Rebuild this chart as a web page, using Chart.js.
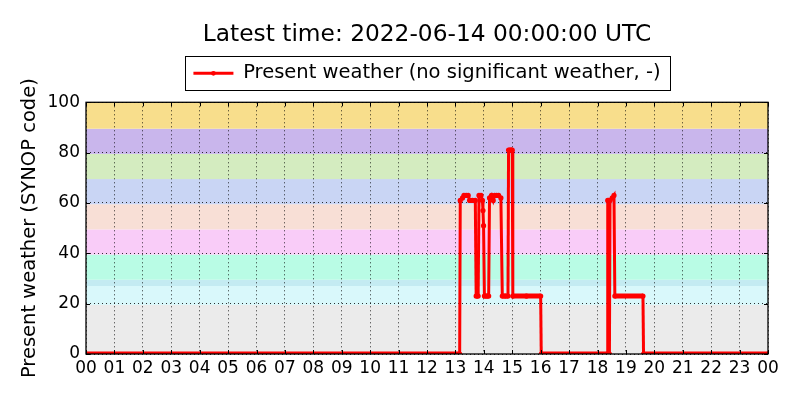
<!DOCTYPE html>
<html>
<head>
<meta charset="utf-8">
<script src="https://cdn.jsdelivr.net/npm/chart.js@4.4.1/dist/chart.umd.min.js"></script>
<style>
  html, body { margin: 0; padding: 0; background: #ffffff; }
  #wrap { width: 800px; height: 400px; }
</style>
</head>
<body>
<div id="wrap"><canvas id="c" width="800" height="400"></canvas></div>
<script>
// ---- data (hours since 00 UTC, SYNOP present-weather code) ----
const timeHours = [0, 13.15, 13.17, 13.25, 13.30, 13.38, 13.45, 13.50, 13.60, 13.70,
  13.73, 13.80, 13.83, 13.90, 13.95, 13.97, 13.99, 14.02, 14.10, 14.17,
  14.20, 14.27, 14.33, 14.38, 14.45, 14.52, 14.60, 14.65, 14.75, 14.85,
  14.87, 14.95, 15.00, 15.02, 15.50, 16.00, 16.02,
  18.34, 18.36, 18.40, 18.42, 18.44, 18.52, 18.58, 18.61, 19.60, 19.62, 24];
const weatherCode = [0, 0, 61, 62, 63, 63, 63, 61, 61, 61,
  23, 23, 63, 63, 61, 57, 51, 23, 23, 23,
  62, 63, 61, 63, 63, 63, 62, 23, 23, 23,
  81, 81, 81, 23, 23, 23, 0,
  0, 61, 61, 0, 61, 62, 63, 23, 23, 0, 0];
const hourTickLabels = ['00','01','02','03','04','05','06','07','08','09','10','11',
  '12','13','14','15','16','17','18','19','20','21','22','23','00'];
const yTickValues = [0, 20, 40, 60, 80, 100];
// weather-class background bands (SYNOP code ranges)
const bandEdges = [0, 19.5, 27, 29.5, 39.5, 49.5, 59.5, 69.5, 79.5, 89.5, 100];
const bandColors = ['#ebebeb', '#d9f8fb', '#c4ebf2', '#b9fce5', '#f9ccf8',
  '#f8dfd6', '#c9d5f4', '#d4ecc0', '#c9b6ec', '#f8de8c'];

const FONT = "'DejaVu Sans', sans-serif";
const points = timeHours.map((t, i) => ({ x: t, y: weatherCode[i] }));

const decor = {
  id: 'decor',
  beforeDraw(chart) {
    const { ctx, chartArea: a, scales: { y } } = chart;
    ctx.save();
    ctx.fillStyle = '#ffffff';
    ctx.fillRect(0, 0, chart.width, chart.height);
    for (let i = 0; i < bandColors.length; i++) {
      const y0 = y.getPixelForValue(bandEdges[i]);
      const y1 = y.getPixelForValue(bandEdges[i + 1]);
      ctx.fillStyle = bandColors[i];
      ctx.fillRect(a.left, y1, a.right - a.left, y0 - y1);
    }
    ctx.restore();
  },
  afterDatasetsDraw(chart) {
    const { ctx, chartArea: a, scales: { x, y } } = chart;
    ctx.save();
    ctx.strokeStyle = '#000';
    ctx.lineWidth = 1;
    const L = 4;
    ctx.beginPath();
    x.ticks.forEach(t => {
      const px = Math.round(x.getPixelForValue(t.value)) + 0.5;
      ctx.moveTo(px, a.bottom); ctx.lineTo(px, a.bottom - L);
      ctx.moveTo(px, a.top); ctx.lineTo(px, a.top + L);
    });
    y.ticks.forEach(t => {
      const py = Math.round(y.getPixelForValue(t.value)) + 0.5;
      ctx.moveTo(a.left, py); ctx.lineTo(a.left + L, py);
      ctx.moveTo(a.right, py); ctx.lineTo(a.right - L, py);
    });
    ctx.stroke();
    ctx.lineWidth = 1.3;
    ctx.strokeRect(a.left, a.top, a.right - a.left, a.bottom - a.top);
    ctx.restore();
  },
  afterDraw(chart) {
    const lg = chart.legend;
    if (!lg || !lg.legendHitBoxes || !lg.legendHitBoxes.length) return;
    const hb = lg.legendHitBoxes[0];
    const ctx = chart.ctx;
    const cy = hb.top + hb.height / 2;
    ctx.save();
    // legend line sample with its small marker
    ctx.strokeStyle = '#ff0000';
    ctx.lineWidth = 3;
    ctx.beginPath();
    ctx.moveTo(hb.left, cy);
    ctx.lineTo(hb.left + 40, cy);
    ctx.stroke();
    ctx.fillStyle = '#ff0000';
    ctx.beginPath();
    ctx.arc(hb.left + 20, cy, 2.4, 0, Math.PI * 2);
    ctx.fill();
    ctx.strokeStyle = '#000';
    ctx.lineWidth = 1;
    ctx.strokeRect(Math.round(hb.left - 8) + 0.5, Math.round(cy - 17) + 0.5,
      Math.round(hb.width + 18), 34);
    ctx.restore();
  }
};

new Chart(document.getElementById('c'), {
  type: 'line',
  data: {
    datasets: [{
      label: 'Present weather (no significant weather, -)',
      data: points,
      borderColor: '#ff0000',
      backgroundColor: '#ff0000',
      borderWidth: 3,
      pointRadius: 2.6,
      pointBorderWidth: 0,
      pointBackgroundColor: '#ff0000',
      pointHoverRadius: 2.6,
      tension: 0,
      clip: 0,
      segment: {
        borderWidth: c => (c.p0.parsed.y === c.p1.parsed.y ? 5 : 3)
      }
    }]
  },
  options: {
    responsive: false,
    animation: false,
    events: [],
    layout: { padding: { left: 0, right: 32, top: 0, bottom: 0 } },
    scales: {
      x: {
        type: 'linear',
        min: 0, max: 24,
        afterFit: s => { s.height = 46; },
        afterBuildTicks: s => { s.ticks = hourTickLabels.map((_, i) => ({ value: i })); },
        ticks: {
          autoSkip: false, maxRotation: 0, padding: 4,
          color: '#000', font: { family: FONT, size: 17 },
          callback: (v, i) => hourTickLabels[i]
        },
        grid: { color: 'rgba(0,0,0,0.8)', lineWidth: 1, drawTicks: false },
        border: { display: false, dash: [1, 3] }
      },
      xSpacer: {
        type: 'linear', position: 'top', display: true,
        min: 0, max: 24,
        afterFit: s => { s.height = 9.25; },
        ticks: { display: false },
        grid: { display: false, drawTicks: false },
        border: { display: false }
      },
      y: {
        min: 0, max: 100,
        afterFit: s => { s.width = 86; },
        afterBuildTicks: s => { s.ticks = yTickValues.map(v => ({ value: v })); },
        ticks: { padding: 6, color: '#000', font: { family: FONT, size: 17 } },
        grid: { color: 'rgba(0,0,0,0.8)', lineWidth: 1, drawTicks: false },
        border: { display: false, dash: [1, 3] },
        title: {
          display: true, text: 'Present weather (SYNOP code)',
          color: '#000', font: { family: FONT, size: 19.5 },
          padding: { top: 18.3, bottom: 0 }
        }
      }
    },
    plugins: {
      title: {
        display: true, text: 'Latest time: 2022-06-14 00:00:00 UTC',
        fullSize: false,
        color: '#000', font: { family: FONT, size: 23.3, weight: 'normal', lineHeight: 1 },
        padding: { top: 23, bottom: 0 }
      },
      legend: {
        display: true,
        fullSize: false,
        labels: {
          color: '#000', font: { family: FONT, size: 19.5 },
          usePointStyle: true, pointStyle: 'line', pointStyleWidth: 40,
          boxHeight: 19, padding: 17.25
        }
      },
      tooltip: { enabled: false }
    }
  },
  plugins: [decor]
});
</script>
</body>
</html>
